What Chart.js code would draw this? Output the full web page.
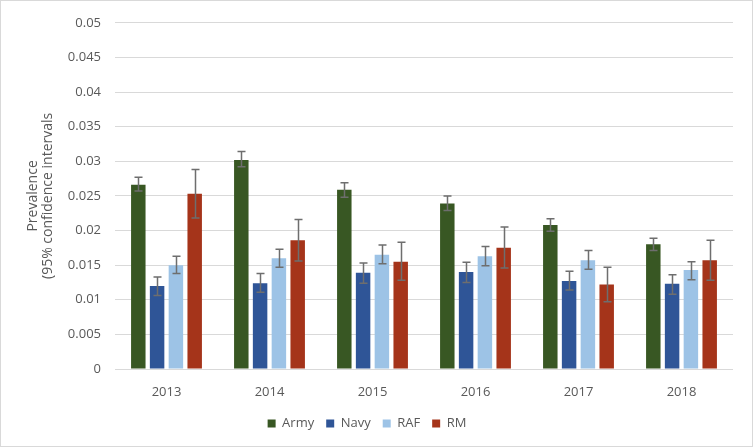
<!DOCTYPE html>
<html>
<head>
<meta charset="utf-8">
<script src="https://cdn.jsdelivr.net/npm/chart.js@4"></script>
<style>
  html, body { margin: 0; padding: 0; background: #fff; }
  .frame { width: 753px; height: 447px; box-sizing: border-box; border: 1px solid #d9d9d9; }
  canvas { display: block; }
</style>
</head>
<body>
<div class="frame"><canvas id="chart" width="751" height="445"></canvas></div>
<script>
// Categories and series (prevalence with 95% CI bounds)
const years = ['2013', '2014', '2015', '2016', '2017', '2018'];
const seriesNames = ['Army', 'Navy', 'RAF', 'RM'];

const army   = [0.0266, 0.0302, 0.0259, 0.0239, 0.0208, 0.0180];
const armyLo = [0.0257, 0.0292, 0.0248, 0.0229, 0.0199, 0.0171];
const armyHi = [0.0277, 0.0314, 0.0269, 0.0250, 0.0217, 0.0189];

const navy   = [0.0120, 0.0124, 0.0139, 0.0140, 0.0127, 0.0123];
const navyLo = [0.0106, 0.0111, 0.0124, 0.0125, 0.0114, 0.0108];
const navyHi = [0.0133, 0.0138, 0.0153, 0.0154, 0.0141, 0.0136];

const raf   = [0.0150, 0.0160, 0.0165, 0.0163, 0.0157, 0.0143];
const rafLo = [0.0138, 0.0147, 0.0152, 0.0149, 0.0144, 0.0129];
const rafHi = [0.0163, 0.0173, 0.0179, 0.0177, 0.0171, 0.0155];

const rm   = [0.0253, 0.0186, 0.0155, 0.0175, 0.0122, 0.0157];
const rmLo = [0.0218, 0.0156, 0.0128, 0.0146, 0.0097, 0.0128];
const rmHi = [0.0288, 0.0216, 0.0183, 0.0205, 0.0147, 0.0186];

const yMin = 0, yMax = 0.05, yStep = 0.005;

const colors = ['#385723', '#2F5597', '#9DC3E6', '#A5341A'];
const values = [army, navy, raf, rm];
const lows = [armyLo, navyLo, rafLo, rmLo];
const highs = [armyHi, navyHi, rafHi, rmHi];

const FONT = "'Open Sans', 'Liberation Sans', sans-serif";
const TEXT = '#595959';

// draw the confidence interval whiskers on top of each bar
const errorBars = {
    id: 'errorBars',
    afterDatasetsDraw(chart) {
        const ctx = chart.ctx;
        const yScale = chart.scales.y;
        ctx.save();
        ctx.strokeStyle = '#6e6e6e';
        ctx.lineWidth = 1.5;
        chart.data.datasets.forEach((ds, i) => {
            const meta = chart.getDatasetMeta(i);
            meta.data.forEach((bar, j) => {
                const x = Math.round(bar.x) + 0.5;
                const top = yScale.getPixelForValue(ds.hi[j]);
                const bottom = yScale.getPixelForValue(ds.lo[j]);
                ctx.beginPath();
                ctx.moveTo(x, top); ctx.lineTo(x, bottom);
                ctx.moveTo(x - 4, top); ctx.lineTo(x + 4, top);
                ctx.moveTo(x - 4, bottom); ctx.lineTo(x + 4, bottom);
                ctx.stroke();
            });
        });
        ctx.restore();
    }
};

const ctx = document.getElementById('chart').getContext('2d');
new Chart(ctx, {
    type: 'bar',
    data: {
        labels: years,
        datasets: seriesNames.map((name, i) => ({
            label: name,
            data: values[i],
            lo: lows[i],
            hi: highs[i],
            backgroundColor: colors[i],
            borderWidth: 0,
            categoryPercentage: 0.73,
            barPercentage: 0.77
        }))
    },
    options: {
        responsive: false,
        animation: false,
        devicePixelRatio: 1,
        layout: { padding: { top: 15, right: 19, left: 0, bottom: 6 } },
        scales: {
            x: {
                grid: { display: false },
                border: { display: false },
                ticks: { color: TEXT, font: { family: FONT, size: 13 }, padding: 7 },
                afterFit(scale) { scale.height = 36; }
            },
            y: {
                min: yMin,
                max: yMax,
                grid: { color: '#d9d9d9', lineWidth: 1, drawTicks: false },
                border: { display: false },
                ticks: {
                    stepSize: yStep,
                    color: TEXT,
                    padding: 14,
                    font: { family: FONT, size: 13 },
                    callback: v => String(+v.toFixed(3))
                },
                title: {
                    display: true,
                    text: ['Prevalence', '(95% confidence intervals'],
                    color: TEXT,
                    font: { family: FONT, size: 14, lineHeight: 1.1 },
                    padding: { top: 24, bottom: 0 }
                },
                afterFit(scale) { scale.width = 114; }
            }
        },
        plugins: {
            legend: {
                position: 'bottom',
                labels: {
                    color: TEXT,
                    font: { family: FONT, size: 13 },
                    boxWidth: 8,
                    boxHeight: 8,
                    padding: 12
                }
            },
            tooltip: { enabled: false }
        }
    },
    plugins: [errorBars]
});
</script>
</body>
</html>
